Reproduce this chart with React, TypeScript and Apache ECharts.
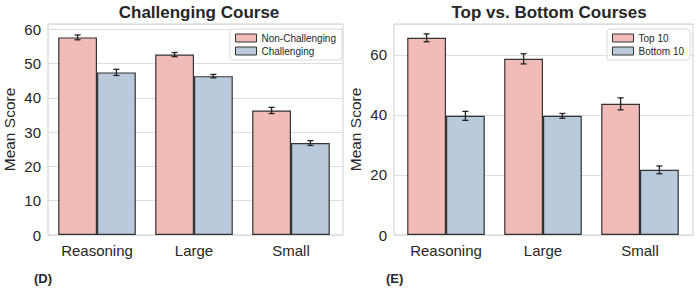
import React, { useEffect, useRef } from "react";
import * as echarts from "echarts";

const categories = ["Reasoning", "Large", "Small"];

// Panel D
const nonChallenging = [57.6, 52.6, 36.3];
const nonChallengingErr = [0.7, 0.6, 0.9];
const challenging = [47.4, 46.3, 26.8];
const challengingErr = [0.9, 0.5, 0.7];

// Panel E
const top10 = [65.7, 58.7, 43.7];
const top10Err = [1.3, 1.7, 2.0];
const bottom10 = [39.7, 39.7, 21.7];
const bottom10Err = [1.5, 0.8, 1.3];

const leftTicksMax = 61.5;
const rightTicksMax = 70.3;

const PINK = "#f1bbb8";
const BLUE = "#b8cadc";
const EDGE = "#333333";
const FONT = "Liberation Sans, Arial, sans-serif";
const TEXT = "#262626";

function errorSeries(name: string, vals: number[], errs: number[], xIdx: number, yIdx: number, offset: number) {
  return {
    type: "custom",
    name: name + "_err",
    xAxisIndex: xIdx,
    yAxisIndex: yIdx,
    z: 5,
    silent: true,
    data: vals.map((v, i) => [i, v, errs[i]]),
    renderItem: (params: any, api: any) => {
      const ci = api.value(0);
      const v = api.value(1);
      const e = api.value(2);
      const band = api.size([1, 0])[0];
      const c = api.coord([ci, v]);
      const x = c[0] + offset * band;
      const yt = api.coord([ci, v + e])[1];
      const yb = api.coord([ci, v - e])[1];
      const style = { stroke: "#222", lineWidth: 1.3 };
      const cap = 3;
      return {
        type: "group",
        children: [
          { type: "line", shape: { x1: x, y1: yt, x2: x, y2: yb }, style },
          { type: "line", shape: { x1: x - cap, y1: yt, x2: x + cap, y2: yt }, style },
          { type: "line", shape: { x1: x - cap, y1: yb, x2: x + cap, y2: yb }, style },
        ],
      };
    },
  };
}

function barSeries(name: string, vals: number[], color: string, xIdx: number, yIdx: number) {
  return {
    type: "bar",
    name,
    xAxisIndex: xIdx,
    yAxisIndex: yIdx,
    data: vals,
    barWidth: "40%",
    barGap: "0%",
    itemStyle: { color, borderColor: EDGE, borderWidth: 1.2 },
    z: 2,
  };
}

export default function App() {
  const ref = useRef<HTMLDivElement>(null);
  useEffect(() => {
    if (!ref.current) return;
    const chart = echarts.init(ref.current, undefined, { renderer: "svg" });
    const top = 24;
    const height = 211;
    const frameGrid = (left: number) => ({
      left,
      top,
      width: 299,
      height,
      show: true,
      borderColor: "#cfcfcf",
      borderWidth: 1,
      backgroundColor: "transparent",
      containLabel: false,
    });
    const barGrid = (left: number) => ({ left, top, width: 291, height, containLabel: false });

    const frameY = (max: number, interval: number) => ({
      type: "value",
      min: 0,
      max,
      interval,
      name: "Mean Score",
      nameLocation: "middle",
      nameGap: 31,
      nameTextStyle: { fontSize: 15.5, color: TEXT, fontFamily: FONT },
      axisLine: { show: false },
      axisTick: { show: false },
      axisLabel: {
        fontSize: 15,
        color: TEXT,
        fontFamily: FONT,
        margin: 7,
        showMaxLabel: false,
        formatter: (v: number) => (v % interval === 0 ? String(v) : ""),
      },
      splitLine: { show: true, lineStyle: { color: "#dddddd", width: 1 } },
    });
    const hiddenY = (max: number) => ({
      type: "value",
      min: 0,
      max,
      show: false,
      splitLine: { show: false },
    });
    const hiddenX = () => ({
      type: "category",
      data: categories,
      show: false,
    });
    const labelX = () => ({
      type: "category",
      data: categories,
      axisLine: { show: false },
      axisTick: { show: false },
      axisLabel: { fontSize: 15, color: TEXT, fontFamily: FONT, margin: 8 },
      splitLine: { show: false },
    });

    const legendBase = {
      orient: "vertical",
      itemWidth: 21,
      itemHeight: 8,
      itemGap: 3,
      icon: "rect",
      padding: [4, 6, 4, 5],
      backgroundColor: "rgba(255,255,255,0.85)",
      borderColor: "#d9d9d9",
      borderWidth: 1,
      borderRadius: 3,
      textStyle: { fontSize: 10, color: TEXT, fontFamily: FONT },
      itemStyle: { borderColor: EDGE, borderWidth: 1 },
    };

    chart.setOption({
      animation: false,
      backgroundColor: "#ffffff",
      grid: [frameGrid(44), barGrid(48.5), frameGrid(394), barGrid(397.5)],
      xAxis: [
        { ...hiddenX(), gridIndex: 0 },
        { ...labelX(), gridIndex: 1 },
        { ...hiddenX(), gridIndex: 2 },
        { ...labelX(), gridIndex: 3 },
      ],
      yAxis: [
        { ...frameY(leftTicksMax, 10), gridIndex: 0 },
        { ...hiddenY(leftTicksMax), gridIndex: 1 },
        { ...frameY(rightTicksMax, 20), gridIndex: 2 },
        { ...hiddenY(rightTicksMax), gridIndex: 3 },
      ],
      legend: [
        { ...legendBase, left: 230, top: 29, data: ["Non-Challenging", "Challenging"] },
        { ...legendBase, left: 607, top: 29, data: ["Top 10", "Bottom 10"] },
      ],
      title: [
        {
          text: "Challenging Course",
          left: 194,
          top: -1,
          textAlign: "center",
          textStyle: { fontSize: 17, fontWeight: "bold", color: TEXT, fontFamily: FONT },
        },
        {
          text: "Top vs. Bottom Courses",
          left: 544,
          top: -1,
          textAlign: "center",
          textStyle: { fontSize: 17, fontWeight: "bold", color: TEXT, fontFamily: FONT },
        },
      ],
      graphic: [
        {
          type: "text",
          left: 34,
          top: 272,
          style: { text: "(D)", font: `bold 13px ${FONT}`, fill: TEXT },
        },
        {
          type: "text",
          left: 386,
          top: 272,
          style: { text: "(E)", font: `bold 13px ${FONT}`, fill: TEXT },
        },
      ],
      series: [
        barSeries("Non-Challenging", nonChallenging, PINK, 1, 1),
        barSeries("Challenging", challenging, BLUE, 1, 1),
        errorSeries("Non-Challenging", nonChallenging, nonChallengingErr, 1, 1, -0.2),
        errorSeries("Challenging", challenging, challengingErr, 1, 1, 0.2),
        barSeries("Top 10", top10, PINK, 3, 3),
        barSeries("Bottom 10", bottom10, BLUE, 3, 3),
        errorSeries("Top 10", top10, top10Err, 3, 3, -0.2),
        errorSeries("Bottom 10", bottom10, bottom10Err, 3, 3, 0.2),
      ],
    });
    return () => chart.dispose();
  }, []);
  return <div ref={ref} style={{ width: 698, height: 289, position: "absolute", left: 0, top: 0 }} />;
}
